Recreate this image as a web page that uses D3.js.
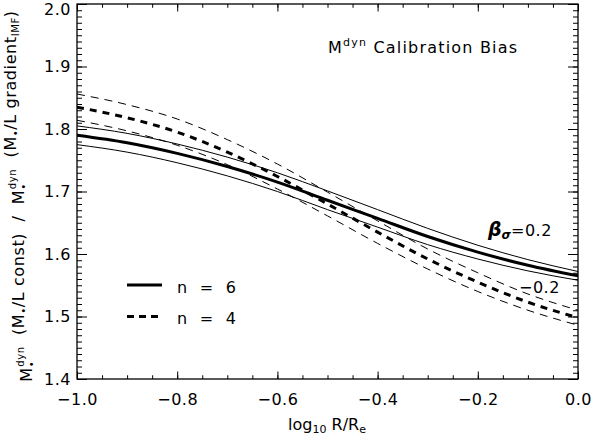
<!DOCTYPE html>
<html><head><meta charset="utf-8">
<script src="https://cdn.jsdelivr.net/npm/d3@7"></script>
<style>
body{margin:0;background:#fff}
text{font-family:"DejaVu Sans",sans-serif;fill:#000}
</style>
</head><body>
<svg id="c" width="607" height="440"></svg>
<script>
// ---- data ----
const logR = [-1.0,-0.9,-0.8,-0.7,-0.6,-0.5,-0.4,-0.3,-0.2,-0.1,0.0];
const n6_beta0  = [1.790,1.778,1.761,1.740,1.715,1.686,1.657,1.628,1.603,1.582,1.565];
const n6_betaP  = [1.805,1.793,1.776,1.755,1.730,1.701,1.671,1.641,1.614,1.591,1.572];
const n6_betaM  = [1.775,1.763,1.746,1.725,1.700,1.671,1.643,1.615,1.592,1.573,1.558];
const n4_beta0  = [1.835,1.818,1.795,1.763,1.724,1.680,1.635,1.592,1.555,1.523,1.498];
const n4_betaP  = [1.856,1.839,1.816,1.783,1.744,1.699,1.653,1.608,1.570,1.536,1.510];
const n4_betaM  = [1.814,1.797,1.774,1.743,1.704,1.661,1.617,1.576,1.540,1.510,1.486];
const xTicks = [-1.0,-0.8,-0.6,-0.4,-0.2,0.0];
const yTicks = [1.4,1.5,1.6,1.7,1.8,1.9,2.0];
const legendLabels = ["n = 6","n = 4"];

// ---- layout ----
const W=607,H=440;
const m={l:77,r:578,t:4,b:379};
const svg=d3.select("#c");
const x=d3.scaleLinear().domain([-1,0]).range([m.l,m.r]);
const y=d3.scaleLinear().domain([1.4,2.0]).range([m.b,m.t]);
const fmt=d3.format(".1f");
const xMinor=d3.range(-1,0.0001,0.05).map(v=>+v.toFixed(2));
const yMinor=d3.range(1.4,2.0001,0.01).map(v=>+v.toFixed(2));

function styleAxis(g){
  g.select(".domain").remove();
  g.selectAll(".tick line").attr("stroke","#000").attr("stroke-width",1);
  g.selectAll(".tick text").style("font-family","DejaVu Sans").style("font-size","16px").attr("fill","#000").style("letter-spacing","0.5px");
}
// bottom
svg.append("g").attr("transform",`translate(0,${m.b})`)
  .call(d3.axisBottom(x).tickValues(xMinor).tickSizeInner(-3.75).tickSizeOuter(0).tickFormat(""))
  .call(styleAxis);
svg.append("g").attr("transform",`translate(0,${m.b})`)
  .call(d3.axisBottom(x).tickValues(xTicks).tickSizeInner(-7.5).tickSizeOuter(0).tickPadding(15).tickFormat(fmt))
  .call(styleAxis);
// top
svg.append("g").attr("transform",`translate(0,${m.t})`)
  .call(d3.axisTop(x).tickValues(xMinor).tickSizeInner(-3.75).tickSizeOuter(0).tickFormat(""))
  .call(styleAxis);
svg.append("g").attr("transform",`translate(0,${m.t})`)
  .call(d3.axisTop(x).tickValues(xTicks).tickSizeInner(-7.5).tickSizeOuter(0).tickFormat(""))
  .call(styleAxis);
// left
svg.append("g").attr("transform",`translate(${m.l},0)`)
  .call(d3.axisLeft(y).tickValues(yMinor).tickSizeInner(-5).tickSizeOuter(0).tickFormat(""))
  .call(styleAxis);
const yl=svg.append("g").attr("transform",`translate(${m.l},0)`)
  .call(d3.axisLeft(y).tickValues(yTicks).tickSizeInner(-10).tickSizeOuter(0).tickPadding(6).tickFormat(fmt))
  .call(styleAxis);
yl.selectAll(".tick text").filter(d=>d===2.0).attr("dy","0.75em").attr("y",-2);
// right
svg.append("g").attr("transform",`translate(${m.r},0)`)
  .call(d3.axisRight(y).tickValues(yMinor).tickSizeInner(-5).tickSizeOuter(0).tickFormat(""))
  .call(styleAxis);
svg.append("g").attr("transform",`translate(${m.r},0)`)
  .call(d3.axisRight(y).tickValues(yTicks).tickSizeInner(-10).tickSizeOuter(0).tickFormat(""))
  .call(styleAxis);

svg.append("rect").attr("x",m.l).attr("y",m.t).attr("width",m.r-m.l).attr("height",m.b-m.t)
  .attr("fill","none").attr("stroke","#000").attr("stroke-width",1.3);

// ---- curves ----
const series=[
  {v:n6_betaP,w:1,dash:null},
  {v:n6_betaM,w:1,dash:null},
  {v:n6_beta0,w:3,dash:null},
  {v:n4_betaP,w:1,dash:"8,6"},
  {v:n4_betaM,w:1,dash:"8,6"},
  {v:n4_beta0,w:3,dash:"7,6"}
];
const line=d3.line().x(d=>x(d[0])).y(d=>y(d[1])).curve(d3.curveMonotoneX);
svg.append("clipPath").attr("id","pc").append("rect")
  .attr("x",m.l).attr("y",m.t).attr("width",m.r-m.l).attr("height",m.b-m.t);
svg.append("g").attr("clip-path","url(#pc)").selectAll("path").data(series).join("path")
  .attr("d",s=>line(logR.map((r,i)=>[r,s.v[i]])))
  .attr("fill","none").attr("stroke","#000")
  .attr("stroke-width",s=>s.w)
  .attr("stroke-dasharray",s=>s.dash);

// ---- legend ----
const leg=[{y:285,dash:null},{y:316.5,dash:"7,5"}];
leg.forEach((l,i)=>{
  svg.append("line").attr("x1",127).attr("x2",162).attr("y1",l.y).attr("y2",l.y)
    .attr("stroke","#000").attr("stroke-width",3).attr("stroke-dasharray",l.dash);
  svg.append("text").attr("x",177).attr("y",l.y+3).attr("dominant-baseline","middle")
    .style("font-size","16px").style("letter-spacing","0.8px")
    .text(legendLabels[i].replace(/ /g,"\u00a0\u00a0"));
});

// ---- annotations ----
const title=svg.append("text").attr("x",328).attr("y",53).style("font-size","16px").style("letter-spacing","1.2px");
title.append("tspan").text("M");
title.append("tspan").attr("dy",-7).style("font-size","11px").text("dyn");
title.append("tspan").attr("dy",7).text("\u00a0Calibration\u00a0Bias");

const b1=svg.append("text").attr("x",488).attr("y",236).style("font-size","16px");
b1.append("tspan").style("font-weight","bold").style("font-style","italic").style("font-size","19px").text("β");
b1.append("tspan").attr("dy",3).style("font-weight","bold").style("font-style","italic").style("font-size","12px").text("σ");
b1.append("tspan").attr("dy",-3).style("letter-spacing","0.5px").text("=0.2");
svg.append("text").attr("x",519).attr("y",293).style("font-size","16px").style("letter-spacing","0.5px").text("\u22120.2");

// x title
const xt=svg.append("text").attr("x",327).attr("y",430).attr("text-anchor","middle").style("font-size","16px");
xt.append("tspan").text("log");
xt.append("tspan").attr("dy",3).style("font-size","11px").text("10");
xt.append("tspan").attr("dy",-3).text("\u00a0R/R");
xt.append("tspan").attr("dy",3).style("font-size","11px").text("e");

// y title
const yt=svg.append("text").attr("transform","translate(32,196) rotate(-90)").attr("text-anchor","middle")
  .style("font-size","16px").style("letter-spacing","0.6px");
function mStar(){
  yt.append("tspan").text("M");
  yt.append("tspan").attr("dy",3).style("font-size","10px").text("•");
  yt.append("tspan").attr("dx",-6).attr("dy",-11).style("font-size","10px").text("dyn");
  yt.append("tspan").attr("dy",8).text("");
}
mStar();
yt.append("tspan").text("\u00a0\u00a0(M");
yt.append("tspan").attr("dy",3).style("font-size","10px").text("•");
yt.append("tspan").attr("dy",-3).text("/L\u00a0const)\u00a0\u00a0/\u00a0\u00a0");
mStar();
yt.append("tspan").text("\u00a0\u00a0(M");
yt.append("tspan").attr("dy",3).style("font-size","10px").text("•");
yt.append("tspan").attr("dy",-3).text("/L\u00a0gradient");
yt.append("tspan").attr("dy",3).style("font-size","10px").text("IMF");
yt.append("tspan").attr("dy",-3).text(")");
</script>
</body></html>
